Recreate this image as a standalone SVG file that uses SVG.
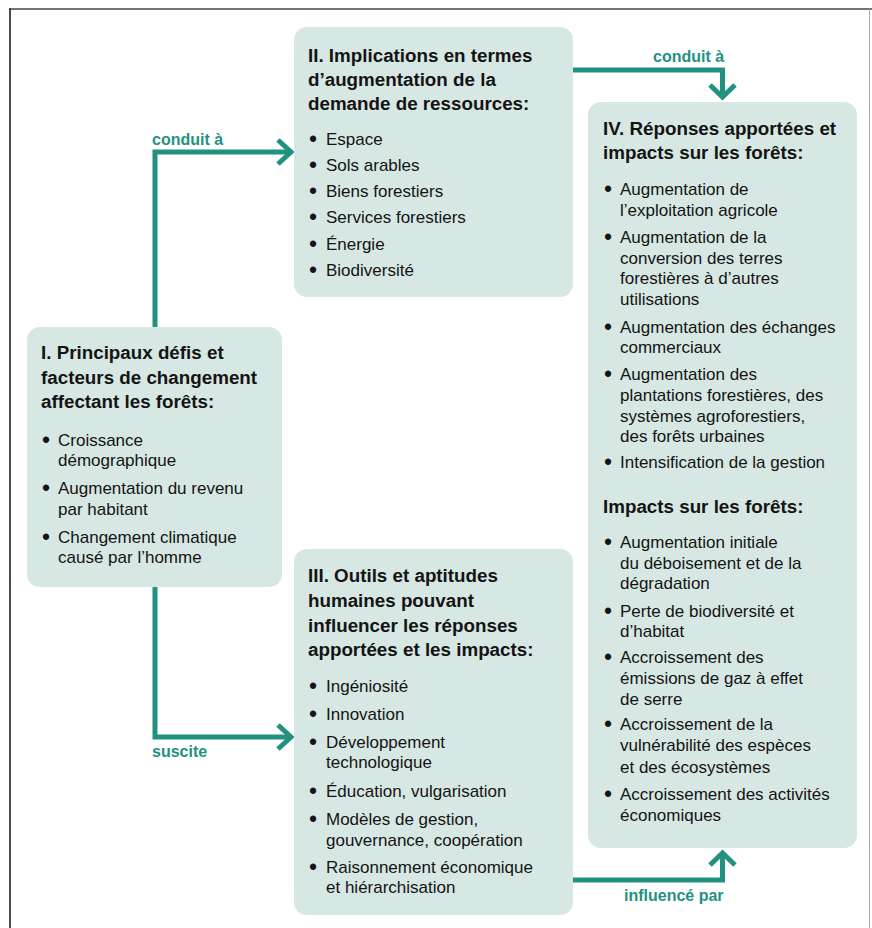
<svg xmlns="http://www.w3.org/2000/svg" width="872" height="928" viewBox="0 0 872 928">
<style>
.box{fill:#d7e7e3}
.t{font-family:"Liberation Sans",Arial,sans-serif;font-weight:bold;font-size:18.8px;fill:#141414}
.b{font-family:"Liberation Sans",Arial,sans-serif;font-size:17px;fill:#141414}
.d{font-family:"Liberation Sans",Arial,sans-serif;font-size:23px;fill:#141414;text-anchor:middle;transform:translateY(1.5px)}
.lbl{font-family:"Liberation Sans",Arial,sans-serif;font-weight:bold;font-size:16px;fill:#23917f}
.c{fill:none;stroke:#23917f;stroke-width:5}
</style>
<rect width="872" height="928" fill="#ffffff"/>
<g id="frame">
<line x1="9" y1="9" x2="872" y2="9" stroke="#444" stroke-width="1.5"/>
<line x1="10" y1="8.5" x2="10" y2="928" stroke="#111" stroke-width="1.5"/>
<line x1="869.5" y1="9" x2="869.5" y2="928" stroke="#aaa" stroke-width="1"/>
</g>
<g id="connectors">
<polyline class="c" points="155,327 155,152 291,152"/>
<polyline class="c" points="278,140 291,152 278,164"/>
<text class="lbl" x="152" y="145">conduit à</text>
<polyline class="c" points="573,70 722.5,70 722.5,97"/>
<polyline class="c" points="710,85 722.5,97 735,85"/>
<text class="lbl" x="653" y="62">conduit à</text>
<polyline class="c" points="155,587 155,737 291,737"/>
<polyline class="c" points="278,725 291,737 278,749"/>
<text class="lbl" x="152" y="757">suscite</text>
<polyline class="c" points="573,880 722.5,880 722.5,853"/>
<polyline class="c" points="710,865 722.5,853 735,865"/>
<text class="lbl" x="624" y="901">influencé par</text>
</g>
<g id="node-I">
<rect class="box" x="27" y="327" width="255" height="260" rx="13"/>
<text class="t" x="41" y="359">I. Principaux défis et</text>
<text class="t" x="41" y="384">facteurs de changement</text>
<text class="t" x="41" y="408">affectant les forêts:</text>
<text class="d" x="46" y="446">•</text><text class="b" x="58" y="446">Croissance</text>
<text class="b" x="58" y="466">démographique</text>
<text class="d" x="46" y="494">•</text><text class="b" x="58" y="494">Augmentation du revenu</text>
<text class="b" x="58" y="515">par habitant</text>
<text class="d" x="46" y="543">•</text><text class="b" x="58" y="543">Changement climatique</text>
<text class="b" x="58" y="563">causé par l’homme</text>
</g>
<g id="node-II">
<rect class="box" x="294" y="27" width="279" height="270" rx="13"/>
<text class="t" x="308" y="62">II. Implications en termes</text>
<text class="t" x="308" y="86">d’augmentation de la</text>
<text class="t" x="308" y="110">demande de ressources:</text>
<text class="d" x="313" y="145">•</text><text class="b" x="326" y="145">Espace</text>
<text class="d" x="313" y="171">•</text><text class="b" x="326" y="171">Sols arables</text>
<text class="d" x="313" y="197">•</text><text class="b" x="326" y="197">Biens forestiers</text>
<text class="d" x="313" y="223">•</text><text class="b" x="326" y="223">Services forestiers</text>
<text class="d" x="313" y="250">•</text><text class="b" x="326" y="250">Énergie</text>
<text class="d" x="313" y="276">•</text><text class="b" x="326" y="276">Biodiversité</text>
</g>
<g id="node-III">
<rect class="box" x="294" y="549" width="279" height="366" rx="13"/>
<text class="t" x="308" y="582">III. Outils et aptitudes</text>
<text class="t" x="308" y="607">humaines pouvant</text>
<text class="t" x="308" y="632">influencer les réponses</text>
<text class="t" x="308" y="656">apportées et les impacts:</text>
<text class="d" x="313" y="692">•</text><text class="b" x="326" y="692">Ingéniosité</text>
<text class="d" x="313" y="720">•</text><text class="b" x="326" y="720">Innovation</text>
<text class="d" x="313" y="748">•</text><text class="b" x="326" y="748">Développement</text>
<text class="b" x="326" y="768">technologique</text>
<text class="d" x="313" y="797">•</text><text class="b" x="326" y="797">Éducation, vulgarisation</text>
<text class="d" x="313" y="825">•</text><text class="b" x="326" y="825">Modèles de gestion,</text>
<text class="b" x="326" y="846">gouvernance, coopération</text>
<text class="d" x="313" y="873">•</text><text class="b" x="326" y="873">Raisonnement économique</text>
<text class="b" x="326" y="893">et hiérarchisation</text>
</g>
<g id="node-IV">
<rect class="box" x="588" y="102" width="269" height="746" rx="13"/>
<text class="t" x="603" y="135">IV. Réponses apportées et</text>
<text class="t" x="603" y="159">impacts sur les forêts:</text>
<text class="d" x="608" y="195">•</text><text class="b" x="620" y="195">Augmentation de</text>
<text class="b" x="620" y="216">l’exploitation agricole</text>
<text class="d" x="608" y="243">•</text><text class="b" x="620" y="243">Augmentation de la</text>
<text class="b" x="620" y="264">conversion des terres</text>
<text class="b" x="620" y="284">forestières à d’autres</text>
<text class="b" x="620" y="305">utilisations</text>
<text class="d" x="608" y="333">•</text><text class="b" x="620" y="333">Augmentation des échanges</text>
<text class="b" x="620" y="353">commerciaux</text>
<text class="d" x="608" y="380">•</text><text class="b" x="620" y="380">Augmentation des</text>
<text class="b" x="620" y="401">plantations forestières, des</text>
<text class="b" x="620" y="422">systèmes agroforestiers,</text>
<text class="b" x="620" y="442">des forêts urbaines</text>
<text class="d" x="608" y="468">•</text><text class="b" x="620" y="468">Intensification de la gestion</text>
<text class="t" x="603" y="513">Impacts sur les forêts:</text>
<text class="d" x="608" y="548">•</text><text class="b" x="620" y="548">Augmentation initiale</text>
<text class="b" x="620" y="569">du déboisement et de la</text>
<text class="b" x="620" y="589">dégradation</text>
<text class="d" x="608" y="617">•</text><text class="b" x="620" y="617">Perte de biodiversité et</text>
<text class="b" x="620" y="637">d’habitat</text>
<text class="d" x="608" y="663">•</text><text class="b" x="620" y="663">Accroissement des</text>
<text class="b" x="620" y="684">émissions de gaz à effet</text>
<text class="b" x="620" y="705">de serre</text>
<text class="d" x="608" y="730">•</text><text class="b" x="620" y="730">Accroissement de la</text>
<text class="b" x="620" y="751">vulnérabilité des espèces</text>
<text class="b" x="620" y="773">et des écosystèmes</text>
<text class="d" x="608" y="800">•</text><text class="b" x="620" y="800">Accroissement des activités</text>
<text class="b" x="620" y="821">économiques</text>
</g>
</svg>
